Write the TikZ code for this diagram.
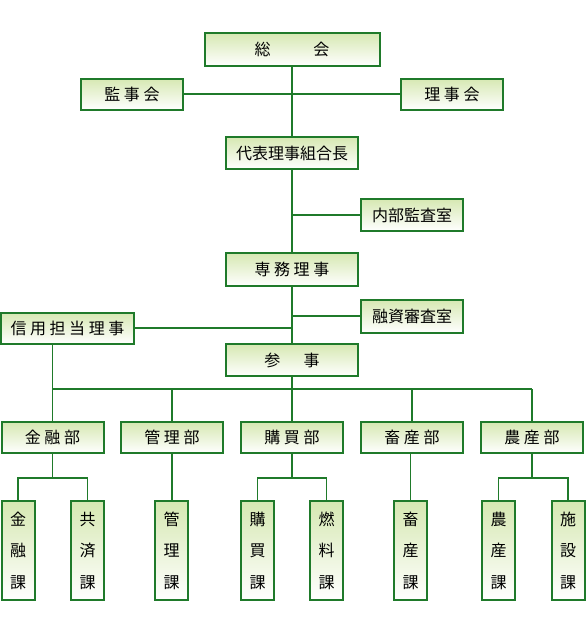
\documentclass[tikz,border=0pt]{standalone}
\usepackage{fontspec}
\newfontfamily\jp{Noto Sans CJK JP}
\newfontfamily\jpwide[LetterSpace=22]{Noto Sans CJK JP}
\definecolor{orgline}{RGB}{31,122,42}
\definecolor{orgtop}{RGB}{214,232,178}

\begin{document}
\begin{tikzpicture}[x=1pt, y=-1pt,
    box/.style={draw=orgline, line width=2pt, top color=orgtop, bottom color=white, inner sep=0pt, font=\jpwide\fontsize{16}{16}\selectfont},
    wide/.style={box, minimum width=132pt, minimum height=32pt},
    small/.style={box, minimum width=102pt, minimum height=31pt},
    ka/.style={box, minimum width=33pt, minimum height=99pt, align=center, font=\jp\fontsize{16}{31.5}\selectfont},
    link/.style={draw=orgline, line width=1.7pt}]

    \useasboundingbox (0,0) rectangle (587,619);

    \node[box, minimum width=175pt, minimum height=33pt] (sokai) at (292,49.5) {総　　会};
    \node[small] (kanji) at (132,94) {監事会};
    \node[small] (rijikai) at (452,94) {理事会};
    \node[wide, font=\jp\fontsize{16}{16}\selectfont] (kumiaicho) at (292,153) {代表理事組合長};
    \node[small, minimum height=32pt, font=\jp\fontsize{16}{16}\selectfont] (naibu) at (412,215) {内部監査室};
    \node[wide, minimum height=33pt] (senmu) at (292,269.5) {専務理事};
    \node[small, minimum height=33pt, font=\jp\fontsize{16}{16}\selectfont] (yushi) at (412,316) {融資審査室};
    \node[wide, minimum width=133pt, minimum height=31pt] (shinyo) at (67.5,328) {信用担当理事};
    \node[wide] (sanji) at (292,360) {参　事};

    \node[small] (kinyu) at (52.5,437.5) {金融部};
    \node[small] (kanri) at (172,437.5) {管理部};
    \node[small] (kobai) at (292,437.5) {購買部};
    \node[small] (chikusan) at (412,437.5) {畜産部};
    \node[small] (nosan) at (532,437.5) {農産部};

    \node[ka] (kinyuka) at (18,550.5) {金\\融\\課};
    \node[ka] (kyosaika) at (87.5,550.5) {共\\済\\課};
    \node[ka] (kanrika) at (171.5,550.5) {管\\理\\課};
    \node[ka] (kobaika) at (257.5,550.5) {購\\買\\課};
    \node[ka] (nenryoka) at (326.5,550.5) {燃\\料\\課};
    \node[ka] (chikusanka) at (410.5,550.5) {畜\\産\\課};
    \node[ka] (nosanka) at (498.5,550.5) {農\\産\\課};
    \node[ka] (shisetsuka) at (568,550.5) {施\\設\\課};

    \coordinate (bus) at (292,389);
    \coordinate (sub) at (0,478);

    \draw[link] (sokai) -- (kumiaicho);
    \draw[link] (kumiaicho) -- (senmu);
    \draw[link] (senmu) -- (sanji);
    \draw[link] (sanji) -- (bus);
    \draw[link] (kanji) -- (rijikai);
    \draw[link] (naibu.west) -- (naibu.west -| senmu);
    \draw[link] (yushi.west) -- (yushi.west -| senmu);
    \draw[link] (shinyo.east) -- (shinyo.east -| senmu);

    \draw[link] (shinyo.south -| kinyu) -- (kinyu.north);
    \draw[link] (kinyu |- bus) -- (nosan |- bus);
    \foreach \dept in {kanri, kobai, chikusan, nosan}
        \draw[link] (\dept |- bus) -- (\dept.north);

    \draw[link] (kinyu.south) -- (kinyu |- sub);
    \draw[link] (kinyuka.north) |- (sub -| kyosaika) -- (kyosaika.north);
    \draw[link] (kanri.south) -- (kanrika.north -| kanri);
    \draw[link] (kobai.south) -- (kobai |- sub);
    \draw[link] (kobaika.north) |- (sub -| nenryoka) -- (nenryoka.north);
    \draw[link] (chikusan.south -| chikusanka) -- (chikusanka.north);
    \draw[link] (nosan.south) -- (nosan |- sub);
    \draw[link] (nosanka.north) |- (sub -| shisetsuka) -- (shisetsuka.north);

\end{tikzpicture}
\end{document}
